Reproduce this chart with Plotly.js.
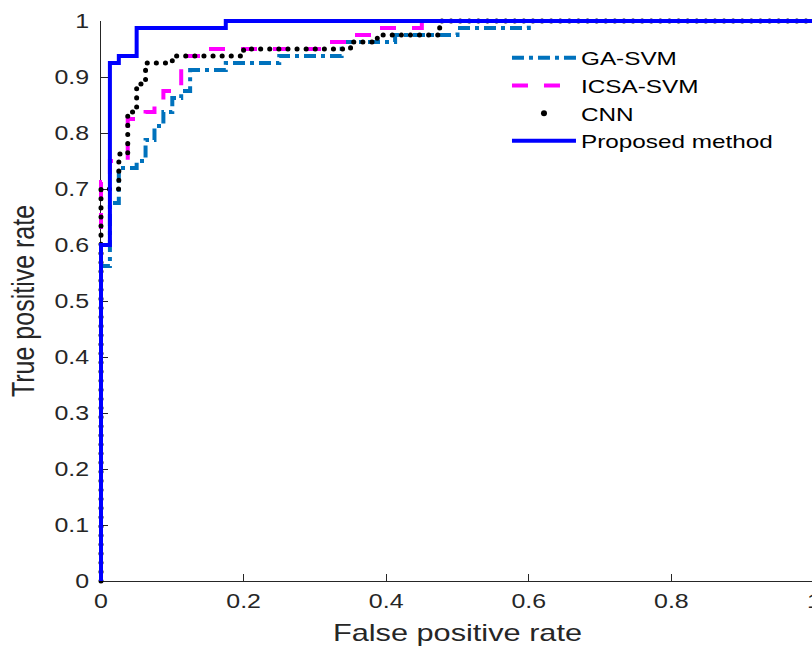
<!DOCTYPE html>
<html>
<head>
<meta charset="utf-8">
<script src="https://cdn.plot.ly/plotly-3.0.1.min.js"></script>
<style>
html, body { margin: 0; padding: 0; overflow: hidden; background: #fff; }
#chart { width: 830px; height: 650px; }
.tracecnn path.js-line { stroke-linecap: round; }
</style>
</head>
<body>
<div id="chart"></div>
<script>
// ROC curves (False positive rate, True positive rate)
const gaFpr = [0, 0, 0.0125, 0.0125, 0.025, 0.025, 0.05, 0.05, 0.0625, 0.0625, 0.075, 0.075, 0.0875, 0.0875, 0.1, 0.1, 0.1125, 0.1125, 0.125, 0.125, 0.175, 0.175, 0.25, 0.25, 0.3375, 0.3375, 0.4125, 0.4125, 0.5, 0.5, 0.6, 0.6, 1];
const gaTpr = [0, 0.5625, 0.5625, 0.675, 0.675, 0.7375, 0.7375, 0.75, 0.75, 0.7875, 0.7875, 0.8125, 0.8125, 0.8375, 0.8375, 0.8625, 0.8625, 0.875, 0.875, 0.9125, 0.9125, 0.925, 0.925, 0.9375, 0.9375, 0.9625, 0.9625, 0.975, 0.975, 0.9875, 0.9875, 1, 1];

const icsaFpr = [0, 0, 0.0125, 0.0125, 0.0375, 0.0375, 0.0625, 0.0625, 0.075, 0.075, 0.0875, 0.0875, 0.1125, 0.1125, 0.15, 0.15, 0.3125, 0.3125, 0.35, 0.35, 0.3875, 0.3875, 0.45, 0.45, 1];
const icsaTpr = [0, 0.7125, 0.7125, 0.75, 0.75, 0.825, 0.825, 0.8375, 0.8375, 0.85, 0.85, 0.875, 0.875, 0.9375, 0.9375, 0.95, 0.95, 0.9625, 0.9625, 0.975, 0.975, 0.9875, 0.9875, 1, 1];

const cnnFpr = [0, 0, 0.025, 0.025, 0.0375, 0.0375, 0.05, 0.05, 0.0625, 0.0625, 0.1, 0.1, 0.2, 0.2, 0.35, 0.35, 0.3875, 0.3875, 0.475, 0.475, 1];
const cnnTpr = [0, 0.7, 0.7, 0.7625, 0.7625, 0.8375, 0.8375, 0.8875, 0.8875, 0.925, 0.925, 0.9375, 0.9375, 0.95, 0.95, 0.9625, 0.9625, 0.975, 0.975, 1, 1];

const propFpr = [0, 0, 0.0125, 0.0125, 0.025, 0.025, 0.05, 0.05, 0.175, 0.175, 1];
const propTpr = [0, 0.6, 0.6, 0.925, 0.925, 0.9375, 0.9375, 0.9875, 0.9875, 1, 1];

const seriesNames = ["GA-SVM", "ICSA-SVM", "CNN", "Proposed method"];
const xTicks = [0, 0.2, 0.4, 0.6, 0.8, 1];
const xTickText = ["0", "0.2", "0.4", "0.6", "0.8", "1"];
const yTicks = [0, 0.1, 0.2, 0.3, 0.4, 0.5, 0.6, 0.7, 0.8, 0.9, 1];
const yTickText = ["0", "0.1", "0.2", "0.3", "0.4", "0.5", "0.6", "0.7", "0.8", "0.9", "1"];

const FONT = '"Liberation Sans", Arial, Helvetica, sans-serif';
const AX = '#262626';
const STRETCH = 1.28;

const traces = [
  { x: gaFpr, y: gaTpr, name: seriesNames[0], mode: 'lines', type: 'scatter',
    line: { color: '#0072BD', width: 4, dash: '12px,5px,4px,5px' } },
  { x: icsaFpr, y: icsaTpr, name: seriesNames[1], mode: 'lines', type: 'scatter',
    line: { color: '#FF00FF', width: 4, dash: '16px,16px' } },
  { x: cnnFpr, y: cnnTpr, name: seriesNames[2], mode: 'lines', type: 'scatter', uid: 'cnn',
    showlegend: false, legendgroup: 'cnn',
    line: { color: '#000000', width: 5, dash: '0.1px,9px' } },
  { x: [null], y: [null], name: seriesNames[2], mode: 'markers', type: 'scatter', legendgroup: 'cnn',
    marker: { color: '#000000', size: 6 } },
  { x: propFpr, y: propTpr, name: seriesNames[3], mode: 'lines', type: 'scatter',
    line: { color: '#0000FF', width: 4 } }
];

const layout = {
  width: 830, height: 650,
  margin: { l: 101, r: 16, t: 21, b: 69 },
  paper_bgcolor: '#fff', plot_bgcolor: '#fff',
  font: { family: FONT, color: AX, size: 19 },
  showlegend: true,
  legend: {
    x: 0.5694, y: 0.968, xanchor: 'left', yanchor: 'top',
    bgcolor: 'rgba(0,0,0,0)', borderwidth: 0,
    font: { family: FONT, size: 19, color: '#000' },
    itemwidth: 64, tracegroupgap: 0
  },
  xaxis: {
    range: [0, 1], tickvals: xTicks, ticktext: xTickText,
    ticks: 'inside', ticklen: 7, tickwidth: 1, tickcolor: AX,
    showline: true, linecolor: AX, linewidth: 1, mirror: false,
    showgrid: false, zeroline: false, layer: 'below traces',
    tickfont: { family: FONT, size: 19.5, color: AX }, ticklabelstandoff: 3,
    title: { text: 'False positive rate', font: { family: FONT, size: 24, color: AX }, standoff: 12 },
    fixedrange: true
  },
  yaxis: {
    range: [0, 1], tickvals: yTicks, ticktext: yTickText,
    ticks: 'inside', ticklen: 7, tickwidth: 1, tickcolor: AX,
    showline: true, linecolor: AX, linewidth: 1, mirror: false,
    showgrid: false, zeroline: false, layer: 'below traces',
    tickfont: { family: FONT, size: 19.5, color: AX }, ticklabelstandoff: 7,
    title: { text: 'True positive rate', font: { family: FONT, size: 25, color: AX }, standoff: 20 },
    fixedrange: true
  }
};

function stretchText(gd, sel, sx, sy) {
  gd.querySelectorAll(sel).forEach(function (t) {
    const x = parseFloat(t.getAttribute('x')) || 0;
    const y = parseFloat(t.getAttribute('y')) || 0;
    const tr = t.getAttribute('transform') || '';
    t.setAttribute('transform', tr + ' translate(' + x + ',' + y + ') scale(' + sx + ',' + sy + ') translate(' + (-x) + ',' + (-y) + ')');
  });
}

Plotly.newPlot('chart', traces, layout, { displayModeBar: false, staticPlot: true }).then(function (gd) {
  gd.querySelectorAll('.cartesianlayer [clip-path], .legend [clip-path], .legend[clip-path]').forEach(function (el) { el.removeAttribute('clip-path'); });
  stretchText(gd, '.xtick text', STRETCH, 1);
  stretchText(gd, '.ytick text', STRETCH, 1);
  stretchText(gd, '.legendtext', STRETCH, 1);
  stretchText(gd, '.g-xtitle text', STRETCH, 1);
  stretchText(gd, '.g-ytitle text', 1, STRETCH);
});
</script>
</body>
</html>
